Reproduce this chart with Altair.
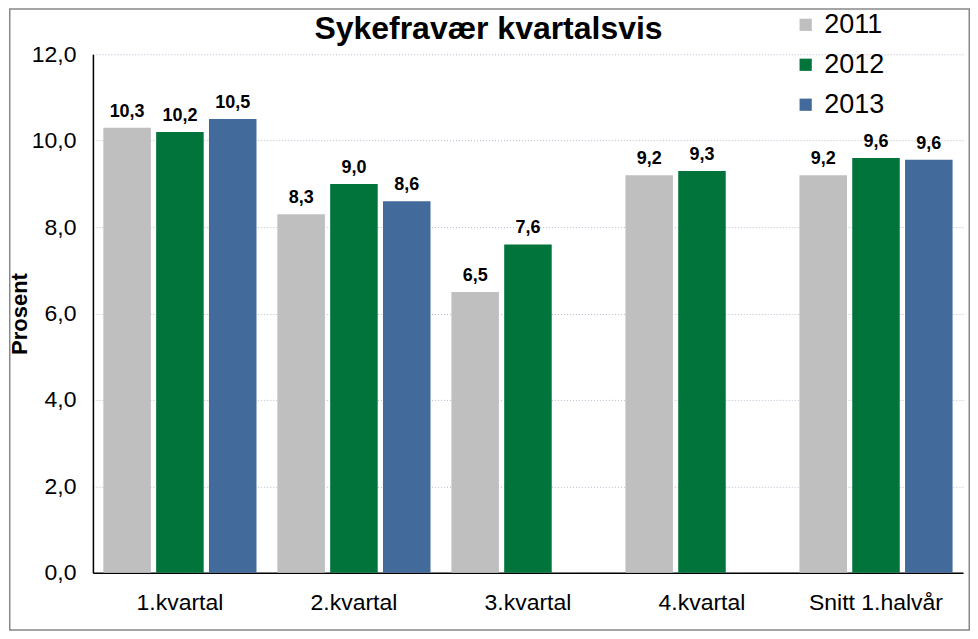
import altair as alt
import pandas as pd

categories = ["1.kvartal", "2.kvartal", "3.kvartal", "4.kvartal", "Snitt 1.halvår"]
years = ["2011", "2012", "2013"]
v2011 = [10.3, 8.3, 6.5, 9.2, 9.2]
v2012 = [10.2, 9.0, 7.6, 9.3, 9.6]
v2013 = [10.5, 8.6, None, None, 9.56]
colors = ["#BFBFBF", "#00743A", "#426A9A"]
y_ticks = [0, 2, 4, 6, 8, 10, 12]

rows = []
for yr, vals in zip(years, [v2011, v2012, v2013]):
    for c, v in zip(categories, vals):
        if v is not None:
            rows.append({"kategori": c, "år": yr, "verdi": v})
df = pd.DataFrame(rows)

LEFT, TOP, RIGHT, BOTTOM = 84, 46, 7, 58
W, H = 962 - LEFT - RIGHT, 623 - TOP - BOTTOM
FONT = "Liberation Sans"

x = alt.X(
    "kategori:N",
    sort=categories,
    scale=alt.Scale(domain=categories, paddingInner=0.12, paddingOuter=0.06),
    axis=alt.Axis(
        title=None, labelAngle=0, labelFontSize=23, labelPadding=19, ticks=False,
        domainColor="black", domainWidth=1.5, labelColor="black", labelFont=FONT, grid=False,
    ),
)
xo = alt.XOffset("år:N", sort=years, scale=alt.Scale(domain=years, paddingInner=0.1, paddingOuter=0))
y = alt.Y(
    "verdi:Q",
    scale=alt.Scale(domain=[0, 12], nice=False),
    axis=alt.Axis(
        title="Prosent", values=y_ticks,
        labelExpr="replace(format(datum.value,'.1f'),'.',',')",
        labelFontSize=23, labelFont=FONT, labelColor="black", labelPadding=17, ticks=False,
        domainColor="black", domainWidth=1.5,
        grid=True, gridColor="#B8B8D0", gridDash=[1, 2], gridWidth=1,
        titleFont=FONT, titleFontSize=22, titleFontWeight="bold", titleColor="black", titlePadding=0,
    ),
)
color = alt.Color(
    "år:N",
    scale=alt.Scale(domain=years, range=colors),
    legend=alt.Legend(
        orient="none", legendX=700, legendY=-43, title=None,
        labelFontSize=27, labelFont=FONT, labelColor="black", labelOffset=5,
        symbolType="square", symbolSize=150, symbolStrokeWidth=0, rowPadding=12,
    ),
)

base = alt.Chart(df)
bars = base.mark_bar().encode(x=x, xOffset=xo, y=y, color=color)
labels = base.transform_calculate(
    label="replace(format(datum.verdi,'.1f'),'.',',')"
).mark_text(
    baseline="bottom", dy=-7, fontSize=18, fontWeight="bold", font=FONT, color="black"
).encode(x=x, xOffset=xo, y=y, text="label:N")

deco = alt.Chart(pd.DataFrame({"t": ["Sykefravær kvartalsvis"]}))
border = deco.mark_rect(filled=False, stroke="#888888", strokeWidth=1.5).encode(
    x=alt.value(-LEFT + 0.75), x2=alt.value(W + RIGHT - 0.75),
    y=alt.value(-TOP + 0.75), y2=alt.value(H + BOTTOM - 0.75),
)
title = deco.mark_text(
    fontSize=32, fontWeight="bold", font=FONT, color="black", baseline="alphabetic", align="center"
).encode(x=alt.value(396), y=alt.value(-15), text="t:N")

chart = alt.layer(border, bars, labels, title).properties(
    width=W, height=H, padding=0, background="white"
).configure_view(stroke=None)

chart.save("out.html", embed_options={"renderer": "svg", "actions": False})
